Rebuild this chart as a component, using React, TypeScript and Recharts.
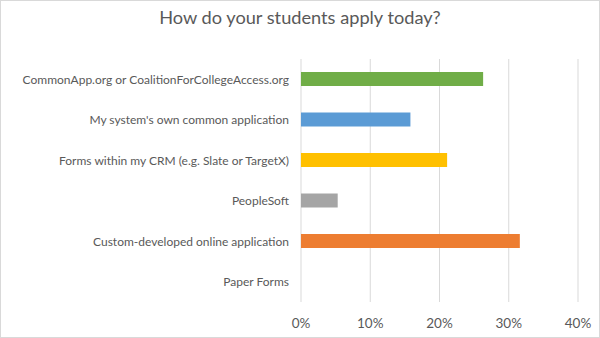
import React from "react";
import { BarChart, Bar, XAxis, YAxis, CartesianGrid, Cell } from "recharts";

const categories = [
  "CommonApp.org or CoalitionForCollegeAccess.org",
  "My system's own common application",
  "Forms within my CRM (e.g. Slate or TargetX)",
  "PeopleSoft",
  "Custom-developed online application",
  "Paper Forms",
];
const shares = [0.263, 0.158, 0.211, 0.053, 0.316, 0];
const barColors = ["#70AD47", "#5B9BD5", "#FFC000", "#A5A5A5", "#ED7D31", "#4472C4"];
const xTicks = [0, 0.1, 0.2, 0.3, 0.4];
const title = "How do your students apply today?";

const data = categories.map((name, i) => ({ name, value: shares[i] }));

const FONT = "Lato, 'Open Sans', sans-serif";

const CategoryTick = (props: any) => {
  const { x, y, payload } = props;
  return (
    <text
      x={x - 4}
      y={y}
      textAnchor="end"
      dominantBaseline="central"
      fill="#595959"
      fontSize={12}
      fontFamily={FONT}
    >
      {payload.value}
    </text>
  );
};

export default function App() {
  return (
    <div
      style={{
        position: "absolute",
        left: 0,
        top: 0,
        width: 600,
        height: 338,
        background: "#fff",
        border: "1px solid #d9d9d9",
        boxSizing: "border-box",
        fontFamily: FONT,
      }}
    >
      <div
        style={{
          position: "absolute",
          left: 0,
          top: 5,
          width: 598,
          textAlign: "center",
          fontSize: 18.2,
          color: "#595959",
          fontFamily: FONT,
        }}
      >
        {title}
      </div>
      <BarChart
        width={598}
        height={336}
        data={data}
        layout="vertical"
        margin={{ top: 58, right: 21, bottom: 4, left: 0 }}
        style={{ position: "absolute", left: 0, top: 0 }}
      >
        <CartesianGrid horizontal={false} vertical={true} stroke="#d9d9d9" />
        <XAxis
          type="number"
          domain={[0, 0.4]}
          ticks={xTicks}
          tickFormatter={(v: number) => `${Math.round(v * 100)}%`}
          axisLine={false}
          tickLine={false}
          tickMargin={10}
          height={31}
          tick={{ fill: "#595959", fontSize: 13.5, fontFamily: FONT }}
          interval={0}
        />
        <YAxis
          type="category"
          dataKey="name"
          width={300}
          axisLine={false}
          tickLine={false}
          interval={0}
          tick={<CategoryTick />}
        />
        <Bar dataKey="value" barSize={14} isAnimationActive={false}>
          {data.map((d, i) => (
            <Cell key={d.name} fill={barColors[i]} />
          ))}
        </Bar>
      </BarChart>
    </div>
  );
}
